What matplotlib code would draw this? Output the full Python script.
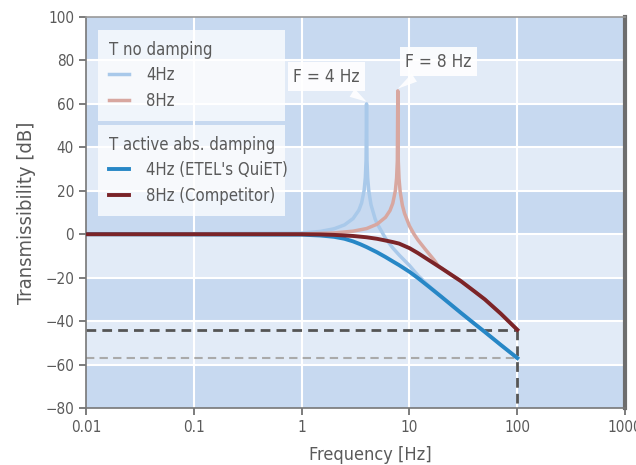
import numpy as np
import matplotlib.pyplot as plt
from matplotlib import font_manager

# frequency [Hz] / transmissibility [dB]
f_nd4 = [0.01, 1, 1.5, 2, 2.5, 3, 3.4, 3.6, 3.8, 3.9, 3.96, 4.0, 4.04, 4.1, 4.2, 4.4, 4.8, 5, 6, 7, 8, 10, 12, 15, 20, 30, 50, 100]
t_nd4 = [0, 0.5, 1.3, 2.5, 4.3, 7.2, 11.1, 14.4, 20.2, 26.1, 34, 60, 34, 25.9, 19.8, 13.6, 7.1, 5.0, -1.9, -6.3, -9.5, -14.4, -19.0, -23.6, -29.0, -36.2, -45.0, -57.0]

f_nd8 = [0.01, 1, 2, 3, 4, 5, 6, 6.6, 7.0, 7.4, 7.6, 7.72, 7.8, 7.88, 8.0, 8.2, 8.6, 9, 10, 11, 12, 14, 17, 18.5, 20, 25, 30, 40, 50, 70, 100]
t_nd8 = [0, 0.1, 0.6, 1.4, 2.6, 4.6, 7.8, 10.9, 14.2, 20.0, 25.9, 33.8, 66, 33.7, 25.7, 19.6, 13.3, 9.6, 3.8, 0.1, -2.7, -6.9, -12.0, -14.6, -15.8, -19.0, -21.6, -26.3, -30.0, -36.5, -44.0]

f_ad4 = [0.01, 1, 1.5, 2, 2.5, 3, 3.5, 4, 5, 6, 7, 8, 10, 12, 15, 20, 30, 40, 50, 70, 100]
t_ad4 = [0, -0.2, -0.6, -1.2, -2.1, -3.3, -4.6, -5.9, -8.3, -10.5, -12.5, -14.2, -17.3, -20.2, -24.0, -29.0, -36.2, -41.2, -45.0, -50.9, -57.0]

f_ad8 = [0.01, 1, 1.5, 2, 3, 4, 5, 6, 7, 8, 10, 12, 15, 20, 25, 30, 40, 50, 70, 100]
t_ad8 = [0, 0, -0.1, -0.3, -0.8, -1.4, -2.1, -2.9, -3.6, -4.3, -6.4, -8.7, -11.8, -15.8, -19.0, -21.6, -26.3, -30.0, -36.5, -44.0]

labels_nd = ["4Hz", "8Hz"]
labels_ad = ["4Hz (ETEL's QuiET)", "8Hz (Competitor)"]
peak_labels = ["F = 4 Hz", "F = 8 Hz"]
xticks = [0.01, 0.1, 1, 10, 100, 1000]
xticklabels = ["0.01", "0.1", "1", "10", "100", "1000"]
yticks = list(range(-80, 101, 20))

# the reference uses a narrow face; take condensed DejaVu if it is there
cond = font_manager.findfont(font_manager.FontProperties(family='DejaVu Sans', stretch='condensed'))
narrow = 'Condensed' in cond
plt.rcParams['font.family'] = ['DejaVu Sans']
if narrow:
	plt.rcParams['font.stretch'] = 'condensed'
k = 1.0 if narrow else 0.88   # font scale
txt = '#5a5a5a'

fig = plt.figure(figsize=(6.36, 4.65), dpi=100)
ax = fig.add_axes([0.135, 0.1226, 0.848, 0.8408])

# striped background
for i, lo in enumerate(range(-80, 100, 20)):
	ax.axhspan(lo, lo + 20, color='#c7d9f0' if i % 2 == 0 else '#e2ebf7', lw=0, zorder=0)
for y in yticks[1:-1]:
	ax.axhline(y, color='white', lw=1.5, zorder=1)
for x in xticks[1:-1]:
	ax.axvline(x, color='white', lw=1.5, zorder=1)

# dashed reference lines at 100 Hz
ax.plot([0.01, 100], [t_ad8[-1]] * 2, color='#555555', lw=2, ls=(0, (3.5, 2.2)), zorder=2)
ax.plot([0.01, 100], [t_ad4[-1]] * 2, color='#aaaaaa', lw=1.5, ls=(0, (4, 2.5)), zorder=2)
ax.plot([100, 100], [t_ad8[-1], -80], color='#555555', lw=2, ls=(0, (3.5, 2.2)), zorder=2)

l1, = ax.plot(f_nd4, t_nd4, color='#a9c9ea', lw=2.5, zorder=3)
l2, = ax.plot(f_nd8, t_nd8, color='#d8a7a0', lw=2.5, zorder=3)
l3, = ax.plot(f_ad4, t_ad4, color='#2787c6', lw=2.8, zorder=4)
l4, = ax.plot(f_ad8, t_ad8, color='#7b2428', lw=2.8, zorder=4)

ax.set_xscale('log')
ax.set_xlim(0.01, 1000)
ax.set_ylim(-80, 100)
ax.set_xticks(xticks)
ax.set_xticklabels(xticklabels)
ax.minorticks_off()
ax.set_yticks(yticks)
ax.tick_params(colors='#666666', labelcolor=txt, labelsize=11 * k, length=5, width=1.2)
ax.set_xlabel("Frequency [Hz]", color=txt, fontsize=13 * k)
ax.set_ylabel("Transmissibility [dB]", color=txt, fontsize=14.5 * k)
ax.xaxis.set_label_coords(0.527, -0.098)
ax.yaxis.set_label_coords(-0.093, 0.5)

for s in ['left', 'bottom']:
	ax.spines[s].set_color('#777777')
	ax.spines[s].set_linewidth(1.2)
ax.spines['top'].set_color('#999999')
ax.spines['top'].set_linewidth(1.2)
ax.spines['right'].set_color('#6e6e6e')
ax.spines['right'].set_linewidth(3)

# peak callouts
bbox = dict(boxstyle='square,pad=0.32', fc='white', ec='none', alpha=0.9)
arrow = dict(arrowstyle='wedge,tail_width=0.55,shrink_factor=0.5', fc='white', ec='none', alpha=0.9,
	shrinkB=0)
ax.annotate(peak_labels[0], xy=(f_nd4[11], 61), xytext=(1.7, 72.5), ha='center', va='center',
	fontsize=12.5 * k, color=txt, bbox=bbox, arrowprops=arrow, zorder=6)
ax.annotate(peak_labels[1], xy=(f_nd8[12], 67), xytext=(18.5, 79.5), ha='center', va='center',
	fontsize=12.5 * k, color=txt, bbox=bbox, arrowprops=arrow, zorder=6)

leg_kw = dict(loc='upper left', mode='expand', fontsize=12 * k, title_fontsize=12 * k,
	handlelength=1.25, handletextpad=1.0, labelspacing=0.45, borderpad=0.65, borderaxespad=0,
	fancybox=False, framealpha=0.75, edgecolor='none', alignment='left', labelcolor=txt)
leg1 = ax.legend([l1, l2], labels_nd, title="T no damping",
	bbox_to_anchor=(0.022, 0.967, 0.347, 0.0), **leg_kw)
leg1.get_title().set_color(txt)
ax.add_artist(leg1)
leg2 = ax.legend([l3, l4], labels_ad, title="T active abs. damping",
	bbox_to_anchor=(0.022, 0.724, 0.347, 0.0), **leg_kw)
leg2.get_title().set_color(txt)
leg1.set_zorder(7)
leg2.set_zorder(7)

fig.savefig('out.png', dpi=100)
